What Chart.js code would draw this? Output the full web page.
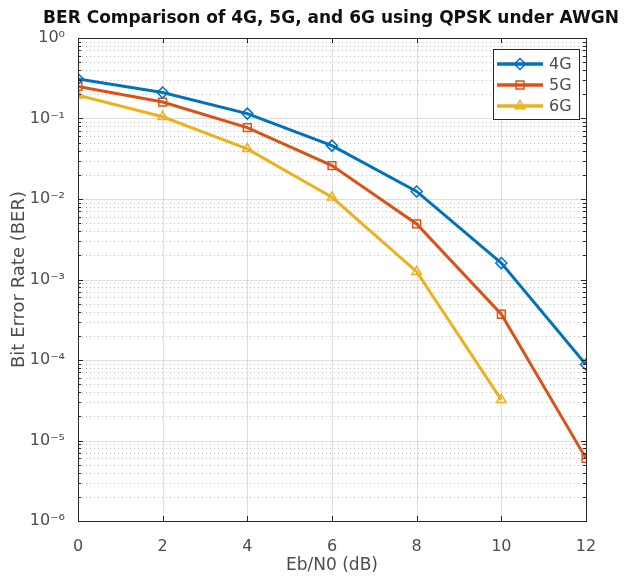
<!DOCTYPE html>
<html>
<head>
<meta charset="utf-8">
<script src="https://cdn.jsdelivr.net/npm/chart.js@4.4.1/dist/chart.umd.min.js"></script>
<style>
  html, body { margin: 0; padding: 0; background: #fff; }
  #wrap { width: 631px; height: 576px; }
</style>
</head>
<body>
<div id="wrap"><canvas id="berChart" width="631" height="576"></canvas></div>
<script>
// Eb/N0 points (dB) and BER
const ebn0 = [0, 2, 4, 6, 8, 10, 12];
const ber4G = [0.31, 0.21, 0.115, 0.046, 0.0124, 0.0016, 8.8e-5];
const ber5G = [0.25, 0.16, 0.077, 0.026, 0.0049, 3.7e-4, 6.0e-6];
const ber6G = [0.195, 0.105, 0.042, 0.0105, 0.00125, 3.2e-5];
const seriesLabels = ["4G", "5G", "6G"];
const seriesColors = ["#0072BD", "#D95319", "#EDB120"];
const seriesMarkers = ["rectRot", "rect", "triangle"];
const xTicks = [0, 2, 4, 6, 8, 10, 12];
const yDecades = [-6, -5, -4, -3, -2, -1, 0];
const titleText = "BER Comparison of 4G, 5G, and 6G using QPSK under AWGN";

const AXIS_COLOR = "#262626";
const TEXT_COLOR = "#4d4d4d";
const FONT = "'DejaVu Sans', sans-serif";

const supers = { "-": "\u207B", "0": "\u2070", "1": "\u00B9", "2": "\u00B2", "3": "\u00B3",
  "4": "\u2074", "5": "\u2075", "6": "\u2076", "7": "\u2077", "8": "\u2078", "9": "\u2079" };
function powLabel(e) {
  return "10" + String(e).split("").map(c => supers[c]).join("");
}

function toPoints(ys) {
  return ys.map((y, i) => ({ x: ebn0[i], y: y }));
}

// minor values for the log grid: 2..9 x 10^e
const minorVals = [];
yDecades.slice(0, -1).forEach(e => {
  for (let m = 2; m <= 9; m++) minorVals.push(m * Math.pow(10, e));
});

// MATLAB-ish axes: grid, box, inward ticks, legend box, title
const matlabAxes = {
  id: "matlabAxes",
  beforeDatasetsDraw(chart) {
    const { ctx, chartArea: a, scales: { x, y } } = chart;
    ctx.save();
    // minor dotted grid
    ctx.strokeStyle = "rgba(38,38,38,0.3)";
    ctx.lineWidth = 1;
    ctx.setLineDash([1, 3]);
    minorVals.forEach(v => {
      const py = Math.round(y.getPixelForValue(v)) + 0.5;
      ctx.beginPath(); ctx.moveTo(a.left, py); ctx.lineTo(a.right, py); ctx.stroke();
    });
    // major solid grid
    ctx.setLineDash([]);
    ctx.strokeStyle = "rgba(38,38,38,0.15)";
    yDecades.forEach(e => {
      const py = Math.round(y.getPixelForValue(Math.pow(10, e))) + 0.5;
      ctx.beginPath(); ctx.moveTo(a.left, py); ctx.lineTo(a.right, py); ctx.stroke();
    });
    xTicks.forEach(v => {
      const px = Math.round(x.getPixelForValue(v)) + 0.5;
      ctx.beginPath(); ctx.moveTo(px, a.top); ctx.lineTo(px, a.bottom); ctx.stroke();
    });
    ctx.restore();
  },
  afterDatasetsDraw(chart) {
    const { ctx, chartArea: a, scales: { x, y } } = chart;
    ctx.save();
    ctx.strokeStyle = AXIS_COLOR;
    ctx.lineWidth = 1;
    ctx.strokeRect(Math.round(a.left) + 0.5, Math.round(a.top) + 0.5,
      Math.round(a.right - a.left), Math.round(a.bottom - a.top));
    ctx.beginPath();
    xTicks.forEach(v => {
      const px = Math.round(x.getPixelForValue(v)) + 0.5;
      ctx.moveTo(px, a.bottom); ctx.lineTo(px, a.bottom - 5);
      ctx.moveTo(px, a.top); ctx.lineTo(px, a.top + 5);
    });
    yDecades.forEach(e => {
      const py = Math.round(y.getPixelForValue(Math.pow(10, e))) + 0.5;
      ctx.moveTo(a.left, py); ctx.lineTo(a.left + 5, py);
      ctx.moveTo(a.right, py); ctx.lineTo(a.right - 5, py);
    });
    minorVals.forEach(v => {
      const py = Math.round(y.getPixelForValue(v)) + 0.5;
      ctx.moveTo(a.left, py); ctx.lineTo(a.left + 3, py);
      ctx.moveTo(a.right, py); ctx.lineTo(a.right - 3, py);
    });
    ctx.stroke();

    // title, centred a bit right of the axes like the source figure
    ctx.fillStyle = "#111";
    ctx.font = "bold 17px " + FONT;
    ctx.textAlign = "center";
    ctx.textBaseline = "middle";
    ctx.fillText(titleText, 331, 19);

    // legend
    const lx = 493, ly = 49, lw = 86, lh = 70;
    ctx.fillStyle = "#fff";
    ctx.fillRect(lx, ly, lw, lh);
    ctx.strokeStyle = AXIS_COLOR;
    ctx.strokeRect(lx + 0.5, ly + 0.5, lw, lh);
    chart.data.datasets.forEach((ds, i) => {
      const cy = ly + 15 + i * 21;
      ctx.strokeStyle = ds.borderColor;
      ctx.lineWidth = 3.5;
      ctx.beginPath(); ctx.moveTo(lx + 4, cy); ctx.lineTo(lx + 50, cy); ctx.stroke();
      ctx.lineWidth = 1.5;
      ctx.fillStyle = "rgba(0,0,0,0)";
      Chart.helpers.drawPoint(ctx, {
        pointStyle: ds.pointStyle, radius: 5.5, rotation: 0, borderWidth: 1.5
      }, lx + 27, cy);
      ctx.fillStyle = TEXT_COLOR;
      ctx.font = "16px " + FONT;
      ctx.textAlign = "left";
      ctx.textBaseline = "middle";
      ctx.fillText(ds.label, lx + 56, cy + 1);
    });
    ctx.restore();
  }
};

const datasets = [ber4G, ber5G, ber6G].map((ys, i) => ({
  label: seriesLabels[i],
  data: toPoints(ys),
  borderColor: seriesColors[i],
  backgroundColor: "rgba(0,0,0,0)",
  borderWidth: 3,
  pointStyle: seriesMarkers[i],
  pointRadius: 5.5,
  pointBorderWidth: 1.5,
  pointBackgroundColor: "rgba(0,0,0,0)",
  pointBorderColor: seriesColors[i],
  tension: 0
}));

new Chart(document.getElementById("berChart"), {
  type: "line",
  data: { datasets: datasets },
  options: {
    responsive: false,
    animation: false,
    layout: { padding: { left: 9, right: 45, top: 38, bottom: 0 } },
    plugins: {
      legend: { display: false },
      tooltip: { enabled: false },
      title: { display: false }
    },
    scales: {
      x: {
        type: "linear",
        min: 0,
        max: 12,
        afterBuildTicks: s => { s.ticks = xTicks.map(v => ({ value: v })); },
        afterFit: s => { s.height = 55; },
        grid: { display: false },
        border: { display: false },
        ticks: { color: TEXT_COLOR, font: { family: FONT, size: 16 }, padding: 8 },
        title: {
          display: true, text: "Eb/N0 (dB)", color: TEXT_COLOR,
          font: { family: FONT, size: 17 }, padding: { top: 0, bottom: 0 }
        }
      },
      y: {
        type: "logarithmic",
        min: 1e-6,
        max: 1,
        afterBuildTicks: s => { s.ticks = yDecades.map(e => ({ value: Math.pow(10, e) })); },
        afterFit: s => { s.width = 69; },
        grid: { display: false },
        border: { display: false },
        ticks: {
          color: TEXT_COLOR, font: { family: FONT, size: 16 }, padding: 5,
          callback: v => powLabel(Math.round(Math.log10(v)))
        },
        title: {
          display: true, text: "Bit Error Rate (BER)", color: TEXT_COLOR,
          font: { family: FONT, size: 18 }, padding: { top: 0, bottom: 0 }
        }
      }
    }
  },
  plugins: [matlabAxes]
});
</script>
</body>
</html>
